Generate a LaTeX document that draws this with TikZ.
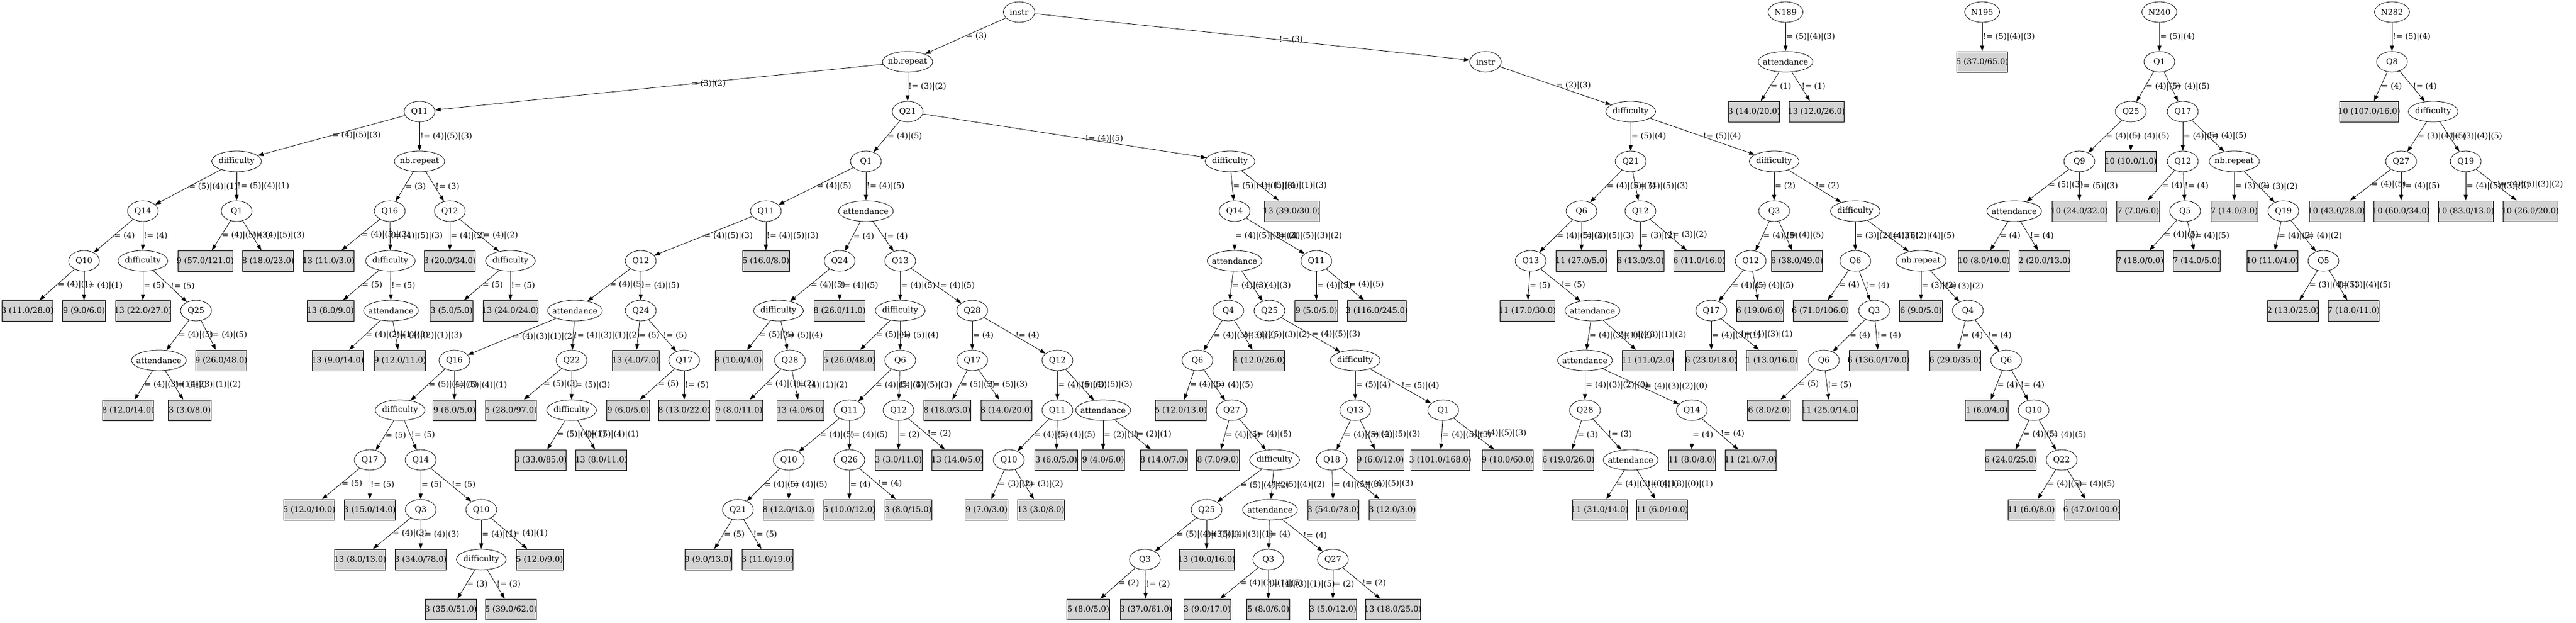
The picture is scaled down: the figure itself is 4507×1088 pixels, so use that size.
\documentclass[tikz,border=0pt]{standalone}
\usepackage{fontspec}
\setmainfont{DejaVu Serif}
\usetikzlibrary{shapes.geometric,arrows.meta}
\definecolor{leafgray}{HTML}{D3D3D3}
\begin{document}
\begin{tikzpicture}[>={Stealth[length=10pt,width=7pt,inset=0pt]}, x=1pt, y=1pt,
  font=\fontsize{14}{17}\selectfont,
  split/.style={ellipse, draw, line width=.8pt, fill=white, minimum width=#1pt, minimum height=36pt, inner sep=0pt,
    execute at begin node={\hbox to 0pt\bgroup\hss}, execute at end node={\hss\egroup}},
  split/.default=54,
  leaf/.style={rectangle, draw, line width=.8pt, fill=leafgray, minimum width=#1pt, minimum height=36pt, inner sep=0pt,
    execute at begin node={\hbox to 0pt\bgroup\hss}, execute at end node={\hss\egroup}},
  cond/.style={anchor=west, inner sep=1pt},
  link/.style={->, line width=.8pt}]
\useasboundingbox (0,0) rectangle (4507,-1088);
\node[split=55] (instr1) at (1783,-21) {instr};
\node[split=88] (nbrep1) at (1588,-108) {nb.repeat};
\draw[link] (instr1) -- node[cond] {= (3)} (nbrep1);
\node[split] (q11a) at (734,-195) {Q11};
\draw[link] (nbrep1) -- node[cond, pos=.43] {= (3)|(2)} (q11a);
\node[split=87] (diff1) at (414,-282) {difficulty};
\draw[link] (q11a) -- node[cond] {= (4)|(5)|(3)} (diff1);
\node[split] (q14a) at (250,-369) {Q14};
\draw[link] (diff1) -- node[cond] {= (5)|(4)|(1)} (q14a);
\node[split] (q10a) at (147,-456) {Q10};
\draw[link] (q14a) -- node[cond] {= (4)} (q10a);
\node[leaf=89] (lf1) at (48,-543) {3 (11.0/28.0)};
\draw[link] (q10a) -- node[cond] {= (4)|(1)} (lf1);
\node[leaf=75] (lf2) at (147,-543) {9 (9.0/6.0)};
\draw[link] (q10a) -- node[cond] {!= (4)|(1)} (lf2);
\node[split=87] (diff2) at (250,-456) {difficulty};
\draw[link] (q14a) -- node[cond] {!= (4)} (diff2);
\node[leaf=96] (lf3) at (250,-543) {13 (22.0/27.0)};
\draw[link] (diff2) -- node[cond] {= (5)} (lf3);
\node[split] (q25a) at (343,-543) {Q25};
\draw[link] (diff2) -- node[cond] {!= (5)} (q25a);
\node[split=96] (att1) at (278,-630) {attendance};
\draw[link] (q25a) -- node[cond] {= (4)|(5)} (att1);
\node[leaf=89] (lf4) at (224,-717) {8 (12.0/14.0)};
\draw[link] (att1) -- node[cond] {= (4)|(3)|(1)|(2)} (lf4);
\node[leaf=75] (lf5) at (332,-717) {3 (3.0/8.0)};
\draw[link] (att1) -- node[cond] {!= (4)|(3)|(1)|(2)} (lf5);
\node[leaf=89] (lf6) at (387,-630) {9 (26.0/48.0)};
\draw[link] (q25a) -- node[cond] {!= (4)|(5)} (lf6);
\node[split] (q1a) at (414,-369) {Q1};
\draw[link] (diff1) -- node[cond] {!= (5)|(4)|(1)} (q1a);
\node[leaf=96] (lf7) at (359,-456) {9 (57.0/121.0)};
\draw[link] (q1a) -- node[cond] {= (4)|(5)|(3)} (lf7);
\node[leaf=89] (lf8) at (469,-456) {8 (18.0/23.0)};
\draw[link] (q1a) -- node[cond] {!= (4)|(5)|(3)} (lf8);
\node[split=88] (nbrep2) at (734,-282) {nb.repeat};
\draw[link] (q11a) -- node[cond] {!= (4)|(5)|(3)} (nbrep2);
\node[split] (q16a) at (682,-369) {Q16};
\draw[link] (nbrep2) -- node[cond] {= (3)} (q16a);
\node[leaf=89] (lf9) at (575,-456) {13 (11.0/3.0)};
\draw[link] (q16a) -- node[cond] {= (4)|(5)|(3)} (lf9);
\node[split=87] (diff3) at (683,-456) {difficulty};
\draw[link] (q16a) -- node[cond] {!= (4)|(5)|(3)} (diff3);
\node[leaf=82] (lf10) at (578,-543) {13 (8.0/9.0)};
\draw[link] (diff3) -- node[cond] {= (5)} (lf10);
\node[split=96] (att2) at (684,-543) {attendance};
\draw[link] (diff3) -- node[cond] {!= (5)} (att2);
\node[leaf=89] (lf11) at (591,-630) {13 (9.0/14.0)};
\draw[link] (att2) -- node[cond] {= (4)|(2)|(1)|(3)} (lf11);
\node[leaf=89] (lf12) at (700,-630) {9 (12.0/11.0)};
\draw[link] (att2) -- node[cond] {!= (4)|(2)|(1)|(3)} (lf12);
\node[split] (q12a) at (787,-369) {Q12};
\draw[link] (nbrep2) -- node[cond] {!= (3)} (q12a);
\node[leaf=89] (lf13) at (787,-456) {3 (20.0/34.0)};
\draw[link] (q12a) -- node[cond] {= (4)|(2)} (lf13);
\node[split=87] (diff4) at (893,-456) {difficulty};
\draw[link] (q12a) -- node[cond] {!= (4)|(2)} (diff4);
\node[leaf=75] (lf14) at (790,-543) {3 (5.0/5.0)};
\draw[link] (diff4) -- node[cond] {= (5)} (lf14);
\node[leaf=96] (lf15) at (893,-543) {13 (24.0/24.0)};
\draw[link] (diff4) -- node[cond] {!= (5)} (lf15);
\node[split] (q21a) at (1588,-195) {Q21};
\draw[link] (nbrep1) -- node[cond] {!= (3)|(2)} (q21a);
\node[split] (q1b) at (1515,-282) {Q1};
\draw[link] (q21a) -- node[cond] {= (4)|(5)} (q1b);
\node[split] (q11b) at (1340,-369) {Q11};
\draw[link] (q1b) -- node[cond] {= (4)|(5)} (q11b);
\node[split] (q12b) at (1121,-456) {Q12};
\draw[link] (q11b) -- node[cond] {= (4)|(5)|(3)} (q12b);
\node[split=96] (att3) at (1006,-543) {attendance};
\draw[link] (q12b) -- node[cond] {= (4)|(5)} (att3);
\node[split] (q16b) at (795,-630) {Q16};
\draw[link] (att3) -- node[cond] {= (4)|(3)|(1)|(2)} (q16b);
\node[split=87] (diff5) at (700,-717) {difficulty};
\draw[link] (q16b) -- node[cond] {= (5)|(4)|(1)} (diff5);
\node[split] (q17a) at (647,-804) {Q17};
\draw[link] (diff5) -- node[cond] {= (5)} (q17a);
\node[leaf=89] (lf16) at (541,-891) {5 (12.0/10.0)};
\draw[link] (q17a) -- node[cond] {= (5)} (lf16);
\node[leaf=89] (lf17) at (647,-891) {3 (15.0/14.0)};
\draw[link] (q17a) -- node[cond] {!= (5)} (lf17);
\node[split] (q14b) at (736,-804) {Q14};
\draw[link] (diff5) -- node[cond] {!= (5)} (q14b);
\node[split] (q3a) at (736,-891) {Q3};
\draw[link] (q14b) -- node[cond] {= (5)} (q3a);
\node[leaf=89] (lf18) at (630,-978) {13 (8.0/13.0)};
\draw[link] (q3a) -- node[cond] {= (4)|(3)} (lf18);
\node[leaf=89] (lf19) at (736,-978) {3 (34.0/78.0)};
\draw[link] (q3a) -- node[cond] {!= (4)|(3)} (lf19);
\node[split] (q10b) at (842,-891) {Q10};
\draw[link] (q14b) -- node[cond] {!= (5)} (q10b);
\node[split=87] (diff6) at (842,-978) {difficulty};
\draw[link] (q10b) -- node[cond] {= (4)|(1)} (diff6);
\node[leaf=89] (lf20) at (789,-1065) {3 (35.0/51.0)};
\draw[link] (diff6) -- node[cond] {= (3)} (lf20);
\node[leaf=89] (lf21) at (894,-1065) {5 (39.0/62.0)};
\draw[link] (diff6) -- node[cond] {!= (3)} (lf21);
\node[leaf=82] (lf22) at (944,-978) {5 (12.0/9.0)};
\draw[link] (q10b) -- node[cond] {!= (4)|(1)} (lf22);
\node[leaf=75] (lf23) at (795,-717) {9 (6.0/5.0)};
\draw[link] (q16b) -- node[cond] {!= (5)|(4)|(1)} (lf23);
\node[split] (q22a) at (1000,-630) {Q22};
\draw[link] (att3) -- node[cond] {!= (4)|(3)|(1)|(2)} (q22a);
\node[leaf=89] (lf24) at (894,-717) {5 (28.0/97.0)};
\draw[link] (q22a) -- node[cond] {= (5)|(3)} (lf24);
\node[split=87] (diff7) at (1000,-717) {difficulty};
\draw[link] (q22a) -- node[cond] {!= (5)|(3)} (diff7);
\node[leaf=89] (lf25) at (946,-804) {3 (33.0/85.0)};
\draw[link] (diff7) -- node[cond] {= (5)|(4)|(1)} (lf25);
\node[leaf=89] (lf26) at (1052,-804) {13 (8.0/11.0)};
\draw[link] (diff7) -- node[cond] {!= (5)|(4)|(1)} (lf26);
\node[split] (q24a) at (1121,-543) {Q24};
\draw[link] (q12b) -- node[cond] {!= (4)|(5)} (q24a);
\node[leaf=82] (lf27) at (1112,-630) {13 (4.0/7.0)};
\draw[link] (q24a) -- node[cond] {= (5)} (lf27);
\node[split] (q17b) at (1197,-630) {Q17};
\draw[link] (q24a) -- node[cond] {!= (5)} (q17b);
\node[leaf=75] (lf28) at (1099,-717) {9 (6.0/5.0)};
\draw[link] (q17b) -- node[cond] {= (5)} (lf28);
\node[leaf=89] (lf29) at (1197,-717) {8 (13.0/22.0)};
\draw[link] (q17b) -- node[cond] {!= (5)} (lf29);
\node[leaf=82] (lf30) at (1340,-456) {5 (16.0/8.0)};
\draw[link] (q11b) -- node[cond] {!= (4)|(5)|(3)} (lf30);
\node[split=96] (att4) at (1515,-369) {attendance};
\draw[link] (q1b) -- node[cond] {!= (4)|(5)} (att4);
\node[split] (q24b) at (1469,-456) {Q24};
\draw[link] (att4) -- node[cond] {= (4)} (q24b);
\node[split=87] (diff8) at (1362,-543) {difficulty};
\draw[link] (q24b) -- node[cond] {= (4)|(5)} (diff8);
\node[leaf=82] (lf31) at (1292,-630) {8 (10.0/4.0)};
\draw[link] (diff8) -- node[cond] {= (5)|(4)} (lf31);
\node[split] (q28a) at (1382,-630) {Q28};
\draw[link] (diff8) -- node[cond] {!= (5)|(4)} (q28a);
\node[leaf=82] (lf32) at (1293,-717) {9 (8.0/11.0)};
\draw[link] (q28a) -- node[cond] {= (4)|(1)|(2)} (lf32);
\node[leaf=82] (lf33) at (1400,-717) {13 (4.0/6.0)};
\draw[link] (q28a) -- node[cond] {!= (4)|(1)|(2)} (lf33);
\node[leaf=89] (lf34) at (1469,-543) {8 (26.0/11.0)};
\draw[link] (q24b) -- node[cond] {!= (4)|(5)} (lf34);
\node[split] (q13a) at (1575,-456) {Q13};
\draw[link] (att4) -- node[cond] {!= (4)} (q13a);
\node[split=87] (diff9) at (1575,-543) {difficulty};
\draw[link] (q13a) -- node[cond] {= (4)|(5)} (diff9);
\node[leaf=89] (lf35) at (1486,-630) {5 (26.0/48.0)};
\draw[link] (diff9) -- node[cond] {= (5)|(4)} (lf35);
\node[split] (q6a) at (1575,-630) {Q6};
\draw[link] (diff9) -- node[cond] {!= (5)|(4)} (q6a);
\node[split] (q11c) at (1486,-717) {Q11};
\draw[link] (q6a) -- node[cond] {= (4)|(5)|(3)} (q11c);
\node[split] (q10c) at (1380,-804) {Q10};
\draw[link] (q11c) -- node[cond] {= (4)|(5)} (q10c);
\node[split] (q21b) at (1291,-891) {Q21};
\draw[link] (q10c) -- node[cond] {= (4)|(5)} (q21b);
\node[leaf=82] (lf36) at (1239,-978) {9 (9.0/13.0)};
\draw[link] (q21b) -- node[cond] {= (5)} (lf36);
\node[leaf=89] (lf37) at (1343,-978) {3 (11.0/19.0)};
\draw[link] (q21b) -- node[cond] {!= (5)} (lf37);
\node[leaf=89] (lf38) at (1380,-891) {8 (12.0/13.0)};
\draw[link] (q10c) -- node[cond] {!= (4)|(5)} (lf38);
\node[split] (q26a) at (1486,-804) {Q26};
\draw[link] (q11c) -- node[cond] {!= (4)|(5)} (q26a);
\node[leaf=89] (lf39) at (1486,-891) {5 (10.0/12.0)};
\draw[link] (q26a) -- node[cond] {= (4)} (lf39);
\node[leaf=82] (lf40) at (1589,-891) {3 (8.0/15.0)};
\draw[link] (q26a) -- node[cond] {!= (4)} (lf40);
\node[split] (q12c) at (1572,-717) {Q12};
\draw[link] (q6a) -- node[cond] {!= (4)|(5)|(3)} (q12c);
\node[leaf=82] (lf41) at (1572,-804) {3 (3.0/11.0)};
\draw[link] (q12c) -- node[cond] {= (2)} (lf41);
\node[leaf=89] (lf42) at (1675,-804) {13 (14.0/5.0)};
\draw[link] (q12c) -- node[cond] {!= (2)} (lf42);
\node[split] (q28b) at (1701,-543) {Q28};
\draw[link] (q13a) -- node[cond] {!= (4)|(5)} (q28b);
\node[split] (q17c) at (1701,-630) {Q17};
\draw[link] (q28b) -- node[cond] {= (4)} (q17c);
\node[leaf=82] (lf43) at (1657,-717) {8 (18.0/3.0)};
\draw[link] (q17c) -- node[cond] {= (5)|(3)} (lf43);
\node[leaf=89] (lf44) at (1761,-717) {8 (14.0/20.0)};
\draw[link] (q17c) -- node[cond] {!= (5)|(3)} (lf44);
\node[split] (q12d) at (1850,-630) {Q12};
\draw[link] (q28b) -- node[cond] {!= (4)} (q12d);
\node[split] (q11d) at (1850,-717) {Q11};
\draw[link] (q12d) -- node[cond] {= (4)|(5)|(3)} (q11d);
\node[split] (q10d) at (1765,-804) {Q10};
\draw[link] (q11d) -- node[cond] {= (4)|(5)} (q10d);
\node[leaf=75] (lf45) at (1726,-891) {9 (7.0/3.0)};
\draw[link] (q10d) -- node[cond] {= (3)|(2)} (lf45);
\node[leaf=82] (lf46) at (1821,-891) {13 (3.0/8.0)};
\draw[link] (q10d) -- node[cond] {!= (3)|(2)} (lf46);
\node[leaf=75] (lf47) at (1848,-804) {3 (6.0/5.0)};
\draw[link] (q11d) -- node[cond] {!= (4)|(5)} (lf47);
\node[split=96] (att5) at (1930,-717) {attendance};
\draw[link] (q12d) -- node[cond] {!= (4)|(5)|(3)} (att5);
\node[leaf=75] (lf48) at (1930,-804) {9 (4.0/6.0)};
\draw[link] (att5) -- node[cond] {= (2)|(1)} (lf48);
\node[leaf=82] (lf49) at (2036,-804) {8 (14.0/7.0)};
\draw[link] (att5) -- node[cond] {!= (2)|(1)} (lf49);
\node[split=87] (diff10) at (2152,-282) {difficulty};
\draw[link] (q21a) -- node[cond, pos=.57] {!= (4)|(5)} (diff10);
\node[split] (q14c) at (2160,-369) {Q14};
\draw[link] (diff10) -- node[cond] {= (5)|(4)|(1)|(3)} (q14c);
\node[split=96] (att6) at (2160,-456) {attendance};
\draw[link] (q14c) -- node[cond] {= (4)|(5)|(3)|(2)} (att6);
\node[split] (q4a) at (2149,-543) {Q4};
\draw[link] (att6) -- node[cond] {= (4)|(3)} (q4a);
\node[split] (q6b) at (2095,-630) {Q6};
\draw[link] (q4a) -- node[cond] {= (4)|(5)|(3)|(2)} (q6b);
\node[leaf=89] (lf50) at (2066,-717) {5 (12.0/13.0)};
\draw[link] (q6b) -- node[cond] {= (4)|(5)} (lf50);
\node[split] (q27a) at (2155,-717) {Q27};
\draw[link] (q6b) -- node[cond] {!= (4)|(5)} (q27a);
\node[leaf=75] (lf51) at (2131,-804) {8 (7.0/9.0)};
\draw[link] (q27a) -- node[cond] {= (4)|(5)} (lf51);
\node[split=87] (diff11) at (2230,-804) {difficulty};
\draw[link] (q27a) -- node[cond] {!= (4)|(5)} (diff11);
\node[split] (q25b) at (2111,-891) {Q25};
\draw[link] (diff11) -- node[cond] {= (5)|(4)|(2)} (q25b);
\node[split] (q3b) at (2003,-978) {Q3};
\draw[link] (q25b) -- node[cond] {= (5)|(4)|(3)|(1)} (q3b);
\node[leaf=75] (lf52) at (1904,-1065) {5 (8.0/5.0)};
\draw[link] (q3b) -- node[cond] {= (2)} (lf52);
\node[leaf=89] (lf53) at (2005,-1065) {3 (37.0/61.0)};
\draw[link] (q3b) -- node[cond] {!= (2)} (lf53);
\node[leaf=96] (lf54) at (2111,-978) {13 (10.0/16.0)};
\draw[link] (q25b) -- node[cond] {!= (5)|(4)|(3)|(1)} (lf54);
\node[split=96] (att7) at (2222,-891) {attendance};
\draw[link] (diff11) -- node[cond] {!= (5)|(4)|(2)} (att7);
\node[split] (q3c) at (2219,-978) {Q3};
\draw[link] (att7) -- node[cond] {= (4)} (q3c);
\node[leaf=82] (lf55) at (2112,-1065) {3 (9.0/17.0)};
\draw[link] (q3c) -- node[cond] {= (4)|(3)|(1)|(5)} (lf55);
\node[leaf=75] (lf56) at (2219,-1065) {5 (8.0/6.0)};
\draw[link] (q3c) -- node[cond] {!= (4)|(3)|(1)|(5)} (lf56);
\node[split] (q27b) at (2332,-978) {Q27};
\draw[link] (att7) -- node[cond] {!= (4)} (q27b);
\node[leaf=82] (lf57) at (2332,-1065) {3 (5.0/12.0)};
\draw[link] (q27b) -- node[cond] {= (2)} (lf57);
\node[leaf=96] (lf58) at (2437,-1065) {13 (18.0/25.0)};
\draw[link] (q27b) -- node[cond] {!= (2)} (lf58);
\node[leaf=89] (lf59) at (2203,-630) {4 (12.0/26.0)};
\draw[link] (q4a) -- node[cond] {!= (4)|(5)|(3)|(2)} (lf59);
\node[split] (q25c) at (2221,-543) {Q25};
\draw[link] (att6) -- node[cond] {!= (4)|(3)} (q25c);
\node[split=87] (diff12) at (2371,-630) {difficulty};
\draw[link] (q25c) -- node[cond] {= (4)|(5)|(3)} (diff12);
\node[split] (q13b) at (2371,-717) {Q13};
\draw[link] (diff12) -- node[cond] {= (5)|(4)} (q13b);
\node[split] (q18a) at (2330,-804) {Q18};
\draw[link] (q13b) -- node[cond] {= (4)|(5)|(3)} (q18a);
\node[leaf=89] (lf60) at (2333,-891) {3 (54.0/78.0)};
\draw[link] (q18a) -- node[cond] {= (4)|(5)|(3)} (lf60);
\node[leaf=82] (lf61) at (2436,-891) {3 (12.0/3.0)};
\draw[link] (q18a) -- node[cond] {!= (4)|(5)|(3)} (lf61);
\node[leaf=82] (lf62) at (2415,-804) {9 (6.0/12.0)};
\draw[link] (q13b) -- node[cond] {!= (4)|(5)|(3)} (lf62);
\node[split] (q1c) at (2525,-717) {Q1};
\draw[link] (diff12) -- node[cond] {!= (5)|(4)} (q1c);
\node[leaf=103] (lf63) at (2520,-804) {3 (101.0/168.0)};
\draw[link] (q1c) -- node[cond] {= (4)|(5)|(3)} (lf63);
\node[leaf=89] (lf64) at (2638,-804) {9 (18.0/60.0)};
\draw[link] (q1c) -- node[cond] {!= (4)|(5)|(3)} (lf64);
\node[split] (q11e) at (2303,-456) {Q11};
\draw[link] (q14c) -- node[cond] {!= (4)|(5)|(3)|(2)} (q11e);
\node[leaf=75] (lf65) at (2303,-543) {9 (5.0/5.0)};
\draw[link] (q11e) -- node[cond] {= (4)|(5)} (lf65);
\node[leaf=103] (lf66) at (2409,-543) {3 (116.0/245.0)};
\draw[link] (q11e) -- node[cond] {!= (4)|(5)} (lf66);
\node[leaf=96] (lf67) at (2260,-369) {13 (39.0/30.0)};
\draw[link] (diff10) -- node[cond] {!= (5)|(4)|(1)|(3)} (lf67);
\node[split=55] (instr2) at (2599,-108) {instr};
\draw[link] (instr1) -- node[cond, pos=.56] {!= (3)} (instr2);
\node[split=87] (diff13) at (2853,-195) {difficulty};
\draw[link] (instr2) -- node[cond] {= (2)|(3)} (diff13);
\node[split] (q21c) at (2853,-282) {Q21};
\draw[link] (diff13) -- node[cond] {= (5)|(4)} (q21c);
\node[split] (q6c) at (2767,-369) {Q6};
\draw[link] (q21c) -- node[cond] {= (4)|(5)|(3)} (q6c);
\node[split] (q13c) at (2678,-456) {Q13};
\draw[link] (q6c) -- node[cond] {= (4)|(5)|(3)} (q13c);
\node[leaf=96] (lf68) at (2672,-543) {11 (17.0/30.0)};
\draw[link] (q13c) -- node[cond] {= (5)} (lf68);
\node[split=96] (att8) at (2786,-543) {attendance};
\draw[link] (q13c) -- node[cond] {!= (5)} (att8);
\node[split=96] (att9) at (2773,-630) {attendance};
\draw[link] (att8) -- node[cond] {= (4)|(3)|(1)|(2)} (att9);
\node[split] (q28c) at (2773,-717) {Q28};
\draw[link] (att9) -- node[cond] {= (4)|(3)|(2)|(0)} (q28c);
\node[leaf=89] (lf69) at (2744,-804) {6 (19.0/26.0)};
\draw[link] (q28c) -- node[cond] {= (3)} (lf69);
\node[split=96] (att10) at (2853,-804) {attendance};
\draw[link] (q28c) -- node[cond] {!= (3)} (att10);
\node[leaf=96] (lf70) at (2799,-891) {11 (31.0/14.0)};
\draw[link] (att10) -- node[cond] {= (4)|(3)|(0)|(1)} (lf70);
\node[leaf=89] (lf71) at (2908,-891) {11 (6.0/10.0)};
\draw[link] (att10) -- node[cond] {!= (4)|(3)|(0)|(1)} (lf71);
\node[split] (q14d) at (2960,-717) {Q14};
\draw[link] (att9) -- node[cond] {!= (4)|(3)|(2)|(0)} (q14d);
\node[leaf=82] (lf72) at (2960,-804) {11 (8.0/8.0)};
\draw[link] (q14d) -- node[cond] {= (4)} (lf72);
\node[leaf=89] (lf73) at (3063,-804) {11 (21.0/7.0)};
\draw[link] (q14d) -- node[cond] {!= (4)} (lf73);
\node[leaf=89] (lf74) at (2883,-630) {11 (11.0/2.0)};
\draw[link] (att8) -- node[cond] {!= (4)|(3)|(1)|(2)} (lf74);
\node[leaf=89] (lf75) at (2767,-456) {11 (27.0/5.0)};
\draw[link] (q6c) -- node[cond] {!= (4)|(5)|(3)} (lf75);
\node[split] (q12e) at (2870,-369) {Q12};
\draw[link] (q21c) -- node[cond] {!= (4)|(5)|(3)} (q12e);
\node[leaf=82] (lf76) at (2870,-456) {6 (13.0/3.0)};
\draw[link] (q12e) -- node[cond] {= (3)|(2)} (lf76);
\node[leaf=89] (lf77) at (2973,-456) {6 (11.0/16.0)};
\draw[link] (q12e) -- node[cond] {!= (3)|(2)} (lf77);
\node[split=87] (diff14) at (3104,-282) {difficulty};
\draw[link] (diff13) -- node[cond] {!= (5)|(4)} (diff14);
\node[split] (q3d) at (3104,-369) {Q3};
\draw[link] (diff14) -- node[cond] {= (2)} (q3d);
\node[split] (q12f) at (3063,-456) {Q12};
\draw[link] (q3d) -- node[cond] {= (4)|(5)} (q12f);
\node[split] (q17d) at (2994,-543) {Q17};
\draw[link] (q12f) -- node[cond] {= (4)|(5)} (q17d);
\node[leaf=89] (lf78) at (2994,-630) {6 (23.0/18.0)};
\draw[link] (q17d) -- node[cond] {= (4)|(3)|(1)} (lf78);
\node[leaf=89] (lf79) at (3100,-630) {1 (13.0/16.0)};
\draw[link] (q17d) -- node[cond] {!= (4)|(3)|(1)} (lf79);
\node[leaf=82] (lf80) at (3079,-543) {6 (19.0/6.0)};
\draw[link] (q12f) -- node[cond] {!= (4)|(5)} (lf80);
\node[leaf=89] (lf81) at (3144,-456) {6 (38.0/49.0)};
\draw[link] (q3d) -- node[cond] {!= (4)|(5)} (lf81);
\node[split=87] (diff15) at (3246,-369) {difficulty};
\draw[link] (diff14) -- node[cond] {!= (2)} (diff15);
\node[split] (q6d) at (3246,-456) {Q6};
\draw[link] (diff15) -- node[cond] {= (3)|(2)|(4)|(5)} (q6d);
\node[leaf=96] (lf82) at (3185,-543) {6 (71.0/106.0)};
\draw[link] (q6d) -- node[cond] {= (4)} (lf82);
\node[split] (q3e) at (3279,-543) {Q3};
\draw[link] (q6d) -- node[cond] {!= (4)} (q3e);
\node[split] (q6e) at (3191,-630) {Q6};
\draw[link] (q3e) -- node[cond] {= (4)} (q6e);
\node[leaf=75] (lf83) at (3095,-717) {6 (8.0/2.0)};
\draw[link] (q6e) -- node[cond] {= (5)} (lf83);
\node[leaf=96] (lf84) at (3202,-717) {11 (25.0/14.0)};
\draw[link] (q6e) -- node[cond] {!= (5)} (lf84);
\node[leaf=103] (lf85) at (3287,-630) {6 (136.0/170.0)};
\draw[link] (q3e) -- node[cond] {!= (4)} (lf85);
\node[split=88] (nbrep3) at (3361,-456) {nb.repeat};
\draw[link] (diff15) -- node[cond] {!= (3)|(2)|(4)|(5)} (nbrep3);
\node[leaf=75] (lf86) at (3361,-543) {6 (9.0/5.0)};
\draw[link] (nbrep3) -- node[cond] {= (3)|(2)} (lf86);
\node[split] (q4b) at (3443,-543) {Q4};
\draw[link] (nbrep3) -- node[cond] {!= (3)|(2)} (q4b);
\node[leaf=89] (lf87) at (3421,-630) {6 (29.0/35.0)};
\draw[link] (q4b) -- node[cond] {= (4)} (lf87);
\node[split] (q6f) at (3510,-630) {Q6};
\draw[link] (q4b) -- node[cond] {!= (4)} (q6f);
\node[leaf=75] (lf88) at (3476,-717) {1 (6.0/4.0)};
\draw[link] (q6f) -- node[cond] {= (4)} (lf88);
\node[split] (q10e) at (3558,-717) {Q10};
\draw[link] (q6f) -- node[cond] {!= (4)} (q10e);
\node[leaf=89] (lf89) at (3518,-804) {6 (24.0/25.0)};
\draw[link] (q10e) -- node[cond] {= (4)|(5)} (lf89);
\node[split] (q22b) at (3607,-804) {Q22};
\draw[link] (q10e) -- node[cond] {!= (4)|(5)} (q22b);
\node[leaf=82] (lf90) at (3554,-891) {11 (6.0/8.0)};
\draw[link] (q22b) -- node[cond] {= (4)|(5)} (lf90);
\node[leaf=96] (lf91) at (3660,-891) {6 (47.0/100.0)};
\draw[link] (q22b) -- node[cond] {!= (4)|(5)} (lf91);
\node[split=61] (n189) at (3124,-21) {N189};
\node[split=96] (att11) at (3124,-108) {attendance};
\draw[link] (n189) -- node[cond] {= (5)|(4)|(3)} (att11);
\node[leaf=89] (lf92) at (3069,-195) {3 (14.0/20.0)};
\draw[link] (att11) -- node[cond] {= (1)} (lf92);
\node[leaf=96] (lf93) at (3178,-195) {13 (12.0/26.0)};
\draw[link] (att11) -- node[cond] {!= (1)} (lf93);
\node[split=61] (n195) at (3468,-21) {N195};
\node[leaf=89] (lf94) at (3468,-108) {5 (37.0/65.0)};
\draw[link] (n195) -- node[cond] {!= (5)|(4)|(3)} (lf94);
\node[split=61] (n240) at (3778,-21) {N240};
\node[split] (q1d) at (3778,-108) {Q1};
\draw[link] (n240) -- node[cond] {= (5)|(4)} (q1d);
\node[split] (q25d) at (3728,-195) {Q25};
\draw[link] (q1d) -- node[cond] {= (4)|(5)} (q25d);
\node[split] (q9a) at (3638,-282) {Q9};
\draw[link] (q25d) -- node[cond] {= (4)|(5)} (q9a);
\node[split=96] (att12) at (3524,-369) {attendance};
\draw[link] (q9a) -- node[cond] {= (5)|(3)} (att12);
\node[leaf=89] (lf95) at (3471,-456) {10 (8.0/10.0)};
\draw[link] (att12) -- node[cond] {= (4)} (lf95);
\node[leaf=89] (lf96) at (3577,-456) {2 (20.0/13.0)};
\draw[link] (att12) -- node[cond] {!= (4)} (lf96);
\node[leaf=96] (lf97) at (3638,-369) {10 (24.0/32.0)};
\draw[link] (q9a) -- node[cond] {!= (5)|(3)} (lf97);
\node[leaf=89] (lf98) at (3728,-282) {10 (10.0/1.0)};
\draw[link] (q25d) -- node[cond] {!= (4)|(5)} (lf98);
\node[split] (q17e) at (3819,-195) {Q17};
\draw[link] (q1d) -- node[cond] {!= (4)|(5)} (q17e);
\node[split] (q12g) at (3819,-282) {Q12};
\draw[link] (q17e) -- node[cond] {= (4)|(5)} (q12g);
\node[leaf=75] (lf99) at (3741,-369) {7 (7.0/6.0)};
\draw[link] (q12g) -- node[cond] {= (4)} (lf99);
\node[split] (q5a) at (3823,-369) {Q5};
\draw[link] (q12g) -- node[cond] {!= (4)} (q5a);
\node[leaf=82] (lf100) at (3744,-456) {7 (18.0/0.0)};
\draw[link] (q5a) -- node[cond] {= (4)|(5)} (lf100);
\node[leaf=82] (lf101) at (3843,-456) {7 (14.0/5.0)};
\draw[link] (q5a) -- node[cond] {!= (4)|(5)} (lf101);
\node[split=88] (nbrep4) at (3909,-282) {nb.repeat};
\draw[link] (q17e) -- node[cond] {!= (4)|(5)} (nbrep4);
\node[leaf=82] (lf102) at (3909,-369) {7 (14.0/3.0)};
\draw[link] (nbrep4) -- node[cond] {= (3)|(2)} (lf102);
\node[split] (q19a) at (3995,-369) {Q19};
\draw[link] (nbrep4) -- node[cond] {!= (3)|(2)} (q19a);
\node[leaf=89] (lf103) at (3976,-456) {10 (11.0/4.0)};
\draw[link] (q19a) -- node[cond] {= (4)|(2)} (lf103);
\node[split] (q5b) at (4065,-456) {Q5};
\draw[link] (q19a) -- node[cond] {!= (4)|(2)} (q5b);
\node[leaf=89] (lf104) at (4012,-543) {2 (13.0/25.0)};
\draw[link] (q5b) -- node[cond] {= (3)|(4)|(5)} (lf104);
\node[leaf=89] (lf105) at (4118,-543) {7 (18.0/11.0)};
\draw[link] (q5b) -- node[cond] {!= (3)|(4)|(5)} (lf105);
\node[split=61] (n282) at (4185,-21) {N282};
\node[split] (q8a) at (4185,-108) {Q8};
\draw[link] (n282) -- node[cond] {!= (5)|(4)} (q8a);
\node[leaf=103] (lf106) at (4145,-195) {10 (107.0/16.0)};
\draw[link] (q8a) -- node[cond] {= (4)} (lf106);
\node[split=87] (diff16) at (4257,-195) {difficulty};
\draw[link] (q8a) -- node[cond] {!= (4)} (diff16);
\node[split] (q27c) at (4201,-282) {Q27};
\draw[link] (diff16) -- node[cond] {= (3)|(4)|(5)} (q27c);
\node[leaf=96] (lf107) at (4088,-369) {10 (43.0/28.0)};
\draw[link] (q27c) -- node[cond] {= (4)|(5)} (lf107);
\node[leaf=96] (lf108) at (4201,-369) {10 (60.0/34.0)};
\draw[link] (q27c) -- node[cond] {!= (4)|(5)} (lf108);
\node[split] (q19b) at (4314,-282) {Q19};
\draw[link] (diff16) -- node[cond] {!= (3)|(4)|(5)} (q19b);
\node[leaf=96] (lf109) at (4314,-369) {10 (83.0/13.0)};
\draw[link] (q19b) -- node[cond] {= (4)|(5)|(3)|(2)} (lf109);
\node[leaf=96] (lf110) at (4427,-369) {10 (26.0/20.0)};
\draw[link] (q19b) -- node[cond] {!= (4)|(5)|(3)|(2)} (lf110);
\end{tikzpicture}
\end{document}
